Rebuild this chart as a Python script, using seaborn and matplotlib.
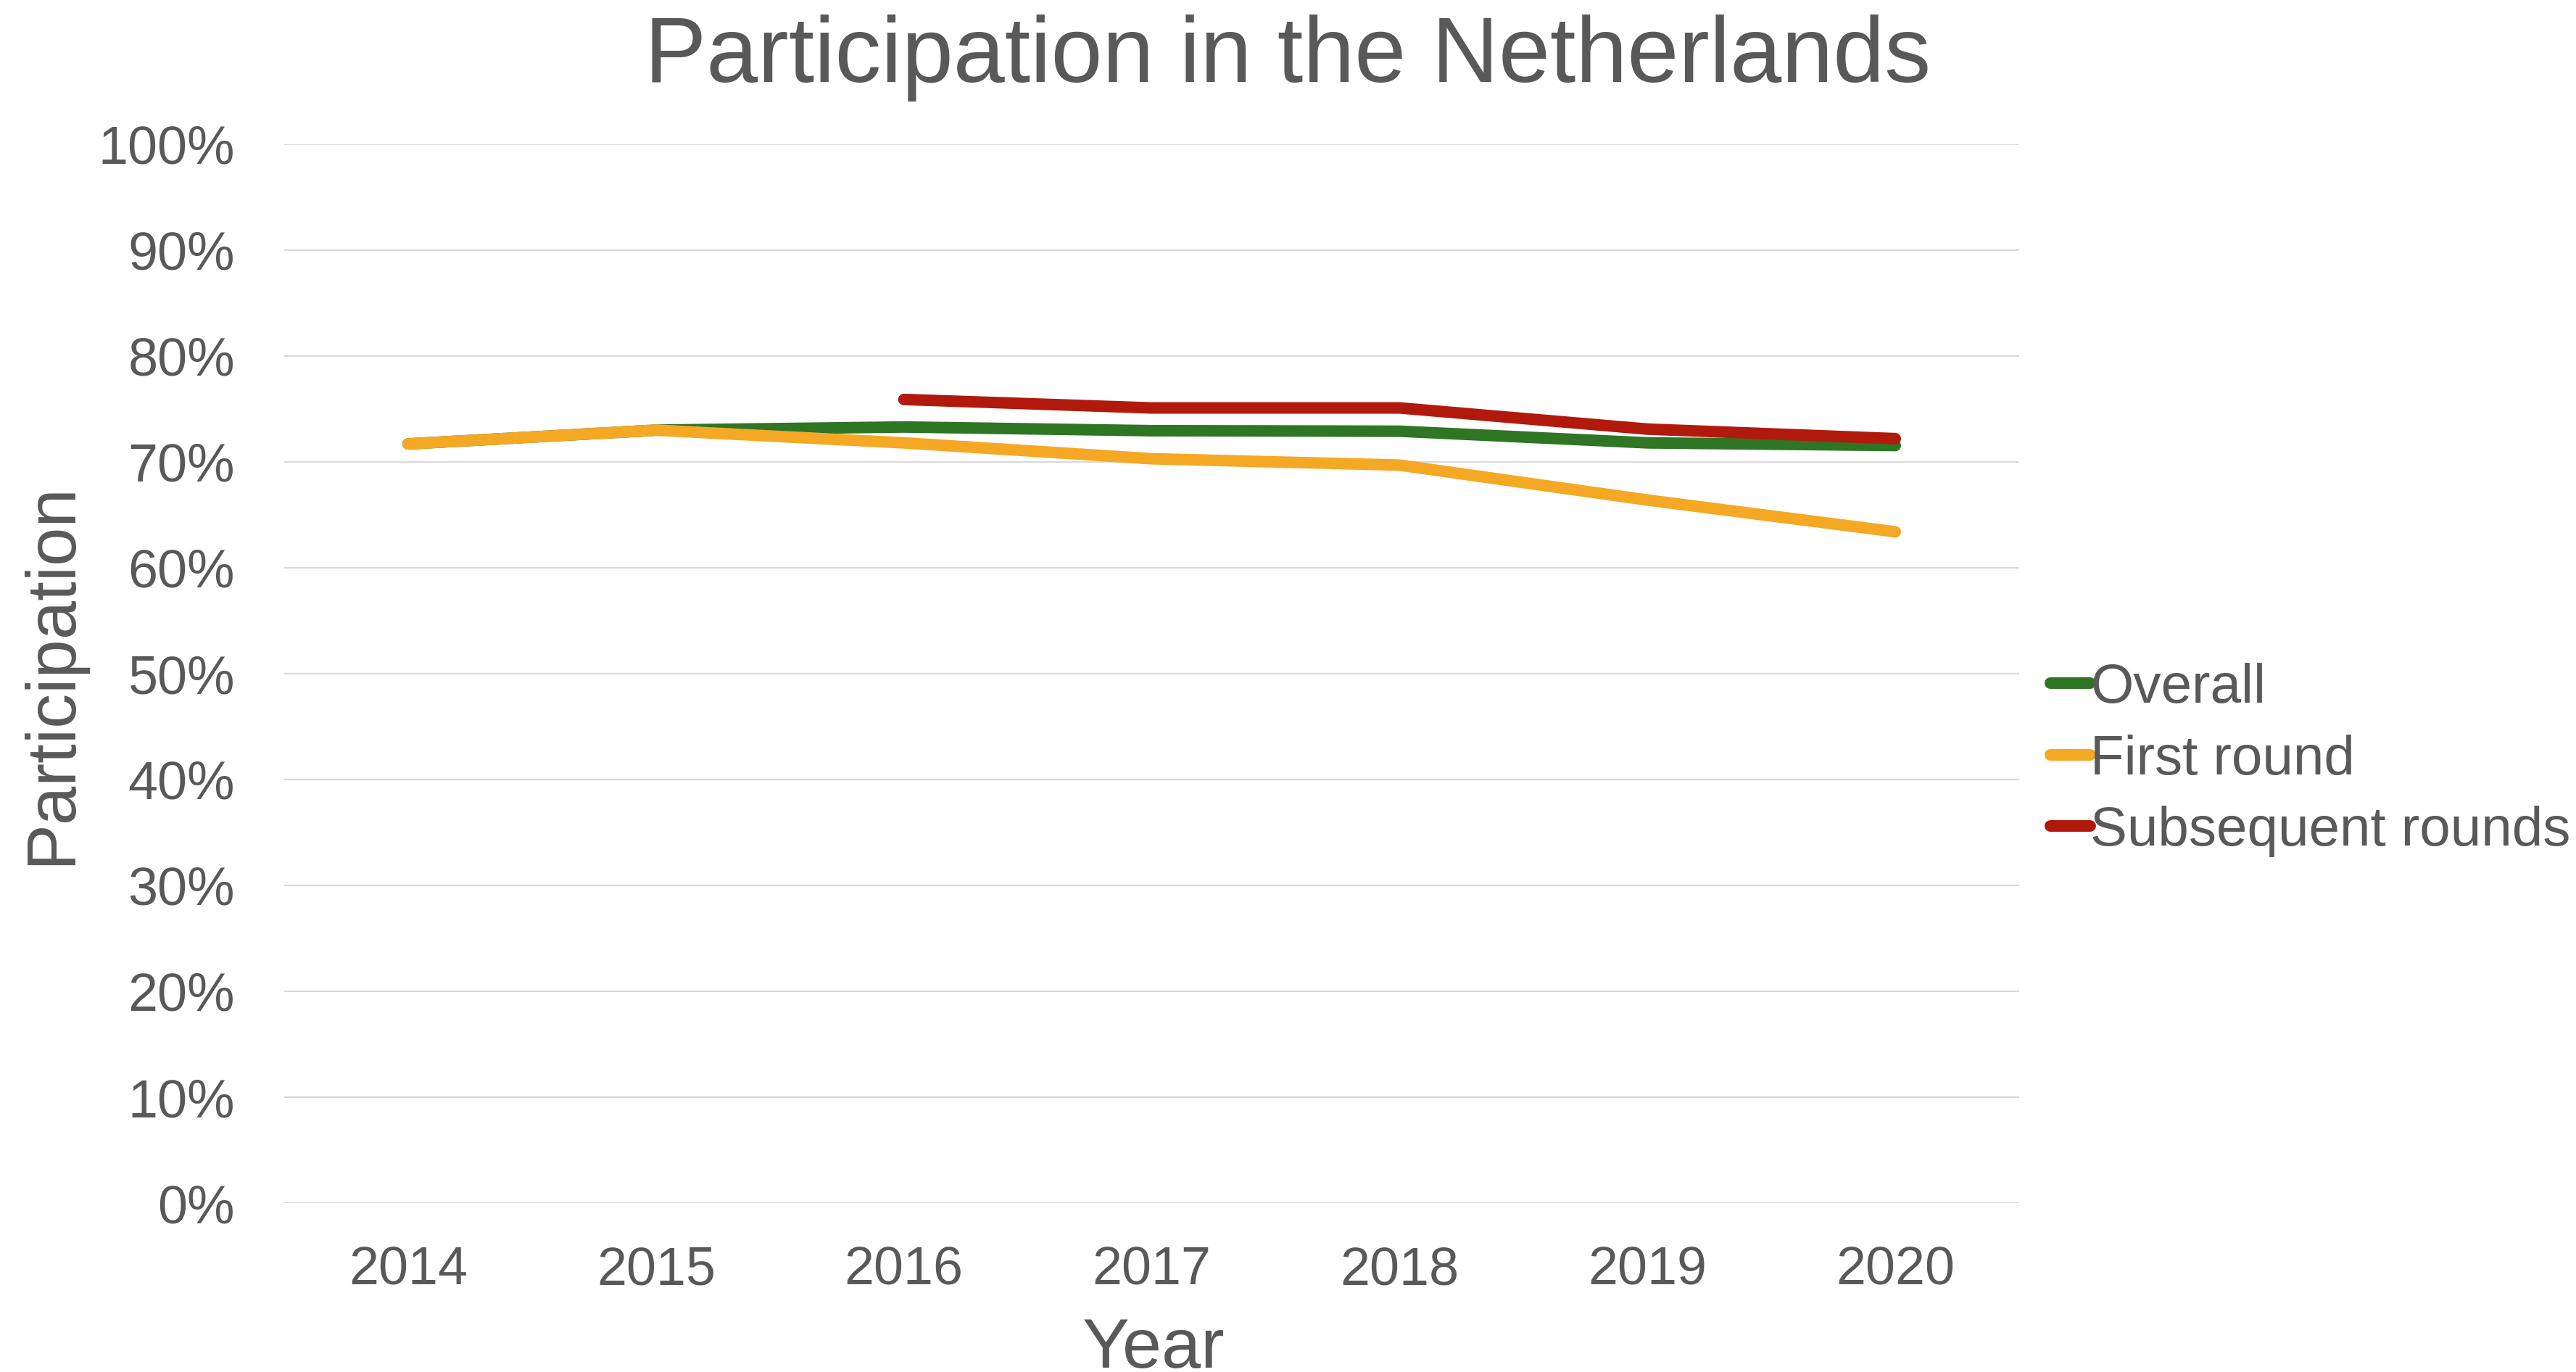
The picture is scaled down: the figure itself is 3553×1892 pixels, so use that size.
import matplotlib
matplotlib.use("Agg")
import matplotlib.pyplot as plt
import seaborn as sns
import pandas as pd
import numpy as np

# values (percent)
years = [2014, 2015, 2016, 2017, 2018, 2019, 2020]
overall = [71.7, 73.0, 73.3, 72.95, 72.9, 71.8, 71.55]
first_round = [71.7, 73.0, 71.8, 70.3, 69.7, 66.4, 63.4]
subsequent_rounds = [np.nan, np.nan, 75.9, 75.1, 75.1, 73.1, 72.2]

series_names = ["Overall", "First round", "Subsequent rounds"]
colors = ["#2E7524", "#F5A824", "#B1190D"]
y_ticks = [0, 10, 20, 30, 40, 50, 60, 70, 80, 90, 100]

text_color = "#595959"

df = pd.DataFrame({
    "Year": years * 3,
    "Participation": overall + first_round + subsequent_rounds,
    "Series": [n for n in series_names for _ in years],
}).dropna()

sns.set_style("white")
plt.rcParams["font.family"] = ["Liberation Sans", "DejaVu Sans"]

fig = plt.figure(figsize=(35.53, 18.92), dpi=100)
ax = fig.add_axes([392 / 3553, 1 - 1659 / 1892, (2785 - 392) / 3553, (1659 - 199) / 1892])

sns.lineplot(data=df, x="Year", y="Participation", hue="Series",
             hue_order=series_names, palette=colors, linewidth=11.5,
             solid_capstyle="round", ax=ax, legend=False)

ax.set_xlim(2013.5, 2020.5)
ax.set_ylim(0, 100)
ax.set_xticks(years)
ax.set_xticklabels([str(y) for y in years])
ax.set_yticks(y_ticks)
ax.set_yticklabels([f"{t}%" for t in y_ticks])
ax.tick_params(axis="both", length=0, labelsize=53, colors=text_color)
ax.tick_params(axis="x", pad=42)
ax.tick_params(axis="y", pad=49)
ax.grid(axis="y", color="#D9D9D9", linewidth=1.6)
ax.grid(axis="x", visible=False)
for s in ax.spines.values():
    s.set_visible(False)
ax.set_xlabel("")
ax.set_ylabel("")

fig.text(0.5, 1 - 113 / 1892, "Participation in the Netherlands",
         ha="center", va="baseline", fontsize=92, color=text_color)
fig.text(1591 / 3553, 1 - 1886 / 1892, "Year",
         ha="center", va="baseline", fontsize=70, color=text_color)
fig.text(72 / 3553, 1 - 929 / 1892, "Participation", rotation=90,
         ha="center", va="center", fontsize=69, color=text_color)

handles = [plt.Line2D([0], [0], color=c, linewidth=11.5, solid_capstyle="round")
           for c in colors]
leg = fig.legend(handles, series_names, loc="center left",
                 bbox_to_anchor=(2828 / 3553, 0.446), frameon=False,
                 fontsize=55, handlelength=0.72, handletextpad=0.0,
                 labelspacing=0.36, borderpad=0, borderaxespad=0)
for t in leg.get_texts():
    t.set_color(text_color)

fig.savefig("out.png", dpi=100)
